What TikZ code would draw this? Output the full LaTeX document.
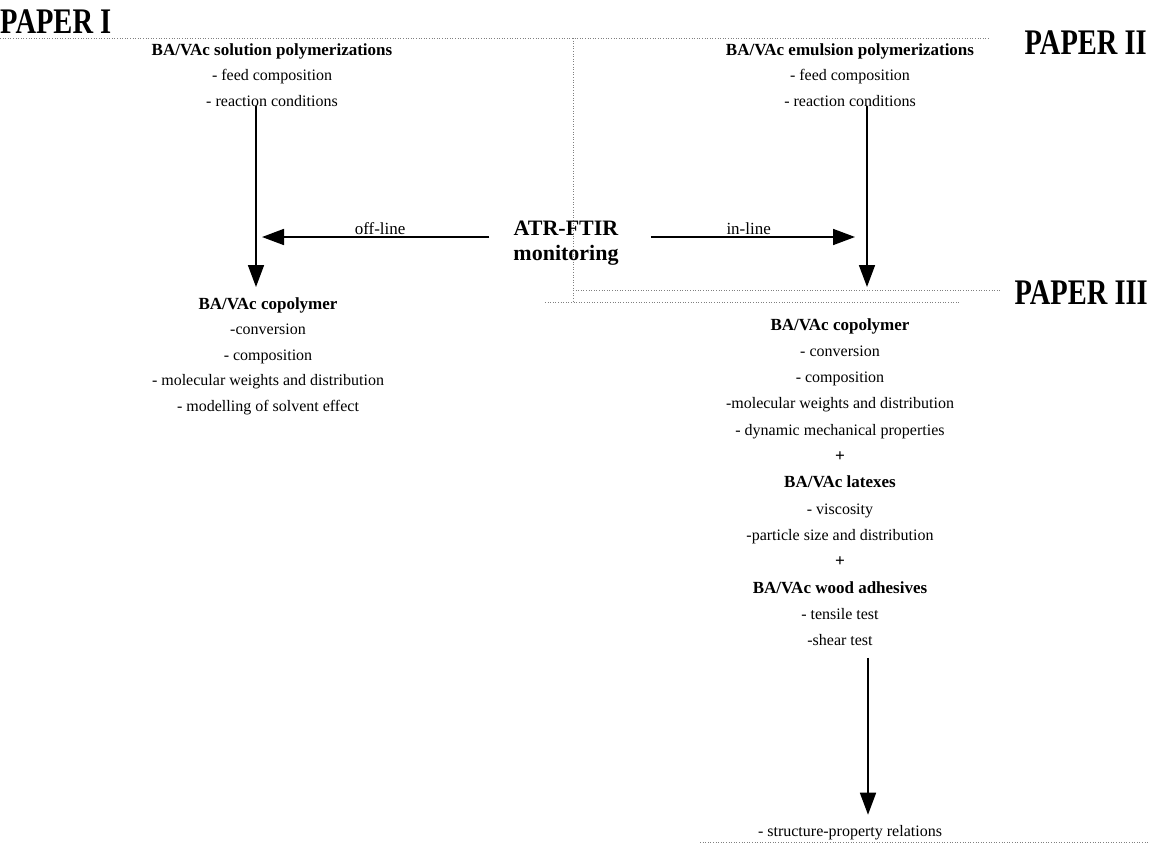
\documentclass[tikz,border=0pt]{standalone}
\usepackage{fontspec}
\setmainfont{Liberation Serif}
\usepackage{tikz}
\usetikzlibrary{arrows.meta}

\begin{document}
\begin{tikzpicture}[x=1pt, y=-1pt, >={Triangle[width=16pt,length=22pt]},
  flow/.style={->, line width=1.7pt},
  scan/.style={gray, dotted, line width=0.6pt},
  block/.style={align=center, inner sep=0pt, font=\fontsize{16}{25.5}\selectfont},
  tag/.style={inner sep=0pt, font=\fontsize{17}{18}\selectfont},
  paper/.style={inner sep=0pt, font=\fontsize{30}{32}\selectfont\bfseries}]
\useasboundingbox (0,0) rectangle (1150,847);

% Scanned table borders
\draw[scan] (0,38) -- (990,38);
\draw[scan] (573,38) -- (573,302);
\draw[scan] (573,290) -- (1000,290);
\draw[scan] (545,302) -- (960,302);
\draw[scan] (700,842) -- (1150,842);

% Paper titles
\node[paper, anchor=base west] (p1) at (0,33) {\scalebox{0.95}[1.2]{PAPER I}};
\node[paper, anchor=base east] (p2) at (1147,54) {\scalebox{0.95}[1.2]{PAPER II}};
\node[paper, anchor=base east] (p3) at (1148,304) {\scalebox{0.95}[1.2]{PAPER III}};

% Text blocks
\node[block, anchor=north] (solL) at (272,43) {\textbf{\fontsize{17}{20}\selectfont BA/VAc solution polymerizations}\\- feed composition\\- reaction conditions};
\node[block, anchor=north] (emuR) at (850,43) {\textbf{\fontsize{17}{20}\selectfont BA/VAc emulsion polymerizations}\\- feed composition\\- reaction conditions};
\node[block, anchor=north] (copL) at (268,297) {\textbf{\fontsize{17}{20}\selectfont BA/VAc copolymer}\\-conversion\\- composition\\- molecular weights and distribution\\- modelling of solvent effect};
\node[block, anchor=north, font=\fontsize{16}{26.3}\selectfont] (copR) at (840,318) {\textbf{\fontsize{17}{20}\selectfont BA/VAc copolymer}\\- conversion\\- composition\\-molecular weights and distribution\\- dynamic mechanical properties\\\textbf{\LARGE +}\\\textbf{\fontsize{17}{20}\selectfont BA/VAc latexes}\\- viscosity\\-particle size and distribution\\\textbf{\LARGE +}\\\textbf{\fontsize{17}{20}\selectfont BA/VAc wood adhesives}\\- tensile test\\-shear test};
\node[block, anchor=base] (relat) at (850,836) {- structure-property relations};
\node[block, anchor=north, font=\fontsize{22}{25}\selectfont\bfseries] (atr) at (566,221) {ATR-FTIR\\monitoring};

% Arrows
\coordinate (offtip) at (262,237);
\coordinate (intip) at (855,237);
\draw[flow, shorten >=10pt] ([xshift=-16pt]solL.south) -- ([xshift=-12pt]copL.north);
\draw[flow, shorten >=31pt] ([xshift=17pt]emuR.south) -- ([xshift=27pt]copR.north);
\draw[flow, shorten <=12pt, shorten >=10pt] ([xshift=28pt]copR.south) -- ([xshift=18pt]relat.north);
\draw[flow, shorten <=24pt] (atr.west |- offtip) -- node[tag, above=1pt, pos=0.53] {off-line} (offtip);
\draw[flow, shorten <=32pt] (atr.east |- intip) -- node[tag, above=1pt, pos=0.55] {in-line} (intip);
\end{tikzpicture}
\end{document}
